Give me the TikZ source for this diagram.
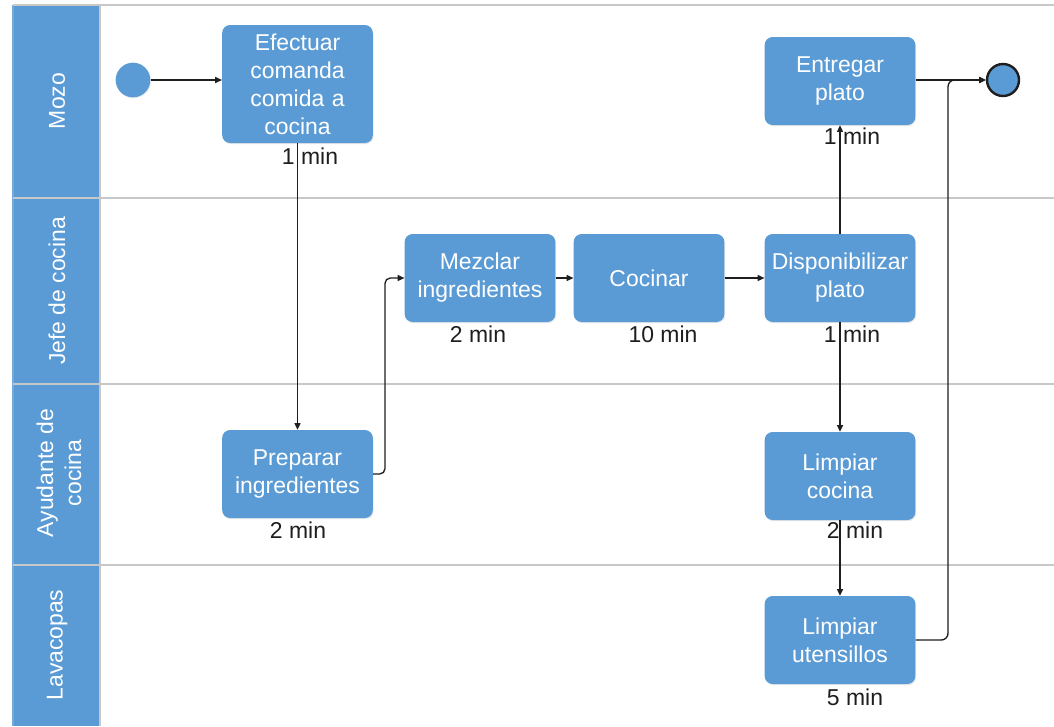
\documentclass[tikz,border=0pt]{standalone}
\usepackage{fontspec}
\setmainfont{Liberation Sans}
\usetikzlibrary{arrows.meta,shadows}
\begin{document}
\definecolor{laneblue}{HTML}{5B9BD5}
\definecolor{taskblue}{HTML}{5B9BD5}
\definecolor{laneline}{HTML}{C8C8C8}
\definecolor{ink}{HTML}{1E1E1E}
\tikzset{
  txt/.style={font=\fontsize{17.2}{21}\selectfont},
  task/.style={txt, draw=none, fill=taskblue, text=white, rounded corners=6pt,
    minimum width=113pt, minimum height=66pt, text width=112pt, align=center, inner sep=0pt,
    drop shadow={opacity=0.18, shadow xshift=0.6pt, shadow yshift=-0.9pt}},
  dur/.style={txt, text=ink, inner sep=0pt},
  lanelabel/.style={txt, text=white, rotate=90, align=center, inner sep=0pt},
  flow/.style={draw=ink, line width=1pt, -{Triangle[length=5pt,width=4.5pt]}},
}
\begin{tikzpicture}[x=0.75pt,y=-0.75pt]
\useasboundingbox (0,0) rectangle (1054,726);
\fill[white] (0,0) rectangle (1054,726);

% swimlane header column and lane borders
\fill[laneblue] (13,5) rectangle (100,726);
\draw[laneblue!85!white, line width=0.8pt] (13,5) -- (13,726);
\draw[laneline, line width=0.9pt] (13,5) -- (1054,5);
\foreach \yy in {198,384,565}
  \draw[laneline, line width=0.9pt] (13,\yy) -- (1054,\yy);
\draw[laneline, line width=0.9pt] (100,5) -- (100,726);

\node[lanelabel] (lmozo) at (57,101) {Mozo};
\node[lanelabel] (ljefe) at (57,291) {Jefe de cocina};
\node[lanelabel] (layud) at (59,473) {Ayudante de\\cocina};
\node[lanelabel] (llava) at (57,645) {Lavacopas};

% events
\node[circle, fill=taskblue, minimum size=26pt, inner sep=0pt,
      drop shadow={opacity=0.15, shadow xshift=0.5pt, shadow yshift=-0.8pt}] (start) at (133,80) {};
\node[circle, fill=taskblue, draw=ink, line width=1.8pt, minimum size=24pt, inner sep=0pt] (endc) at (1003,80) {};

% tasks
\node[task, minimum height=88.5pt] (efect) at (297.5,84) {Efectuar\\comanda\\comida a\\cocina};
\node[task] (entreg) at (840,81) {Entregar\\plato};
\node[task] (mezcl) at (480,278) {Mezclar\\ingredientes};
\node[task] (cocin) at (649,278) {Cocinar};
\node[task] (dispo) at (840,278) {Disponibilizar\\plato};
\node[task] (prep) at (297.5,474) {Preparar\\ingredientes};
\node[task] (limpc) at (840,476) {Limpiar\\cocina};
\node[task] (limpu) at (840,640) {Limpiar\\utensillos};

% connectors
\coordinate (pm) at (385,278);
\coordinate (jn) at (948,80);
\draw[flow] (start) -- (efect.west |- start);
\draw[flow] (efect.south) -- (prep.north);
\draw[flow, rounded corners=4pt] (prep.east) -| (pm) -- (mezcl.west);
\draw[flow] (mezcl.east) -- (cocin.west);
\draw[flow] (cocin.east) -- (dispo.west);
\draw[flow] (dispo.north) -- (entreg.south);
\draw[flow] (dispo.south) -- (limpc.north);
\draw[flow] (limpc.south) -- (limpu.north);
\draw[flow] (entreg.east |- endc) -- (endc.west);
\draw[flow, rounded corners=5pt] (limpu.east) -| (jn) -- (endc.west);

% durations
\node[dur] (d1) at (310,156) {1 min};
\node[dur] (d2) at (852,136) {1 min};
\node[dur] (d3) at (478,334) {2 min};
\node[dur] (d4) at (663,334) {10 min};
\node[dur] (d5) at (852,334) {1 min};
\node[dur] (d6) at (298,530) {2 min};
\node[dur] (d7) at (855,530) {2 min};
\node[dur] (d8) at (855,697) {5 min};
\end{tikzpicture}
\end{document}
